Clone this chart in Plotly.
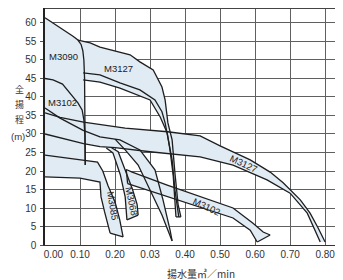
import plotly.graph_objects as go

# ---------------- data ----------------
x_grid_vals = [0.0, 0.1, 0.2, 0.3, 0.4, 0.5, 0.6, 0.7, 0.8]
x_tick_vals = [0.024, 0.1, 0.2, 0.3, 0.4, 0.5, 0.6, 0.7, 0.8]
x_tick_text = ["0.00", "0.10", "0.20", "0.03", "0.40", "0.50", "0.60", "0.70", "0.80"]
y_tick_vals = [0, 5, 10, 15, 20, 25, 30, 35, 40, 45, 50, 55, 60]

# top curve (M3090 upper) with vertical drop
c1_q = [0.0, 0.02, 0.043, 0.06, 0.08, 0.094, 0.103, 0.108, 0.111, 0.113, 0.114, 0.114, 0.115]
c1_h = [61.4, 60.2, 58.6, 57.6, 56.4, 55.4, 54.2, 52.5, 50.0, 45.0, 38.0, 30.0, 21.6]
# M3090 lower curve
l45_q = [0.0, 0.023, 0.05, 0.063, 0.08, 0.094, 0.106, 0.111, 0.114, 0.115]
l45_h = [45.0, 44.6, 43.5, 42.0, 40.0, 38.4, 36.5, 33.8, 29.7, 21.6]
# M3127 (upper band) outer curve
c2_q = [0.094, 0.129, 0.157, 0.20, 0.243, 0.271, 0.309, 0.334, 0.343, 0.351, 0.363, 0.371, 0.38, 0.388]
c2_h = [55.4, 54.6, 53.5, 52.5, 51.4, 49.5, 47.3, 42.7, 39.2, 33.0, 28.4, 19.5, 11.0, 7.6]
# M3127 inner curves
c3_q = [0.109, 0.157, 0.214, 0.271, 0.314, 0.334, 0.343, 0.351, 0.363, 0.371, 0.382]
c3_h = [46.5, 46.0, 43.8, 41.9, 39.2, 36.0, 33.0, 29.2, 23.0, 14.9, 7.6]
c4_q = [0.109, 0.157, 0.214, 0.30, 0.329, 0.349, 0.357, 0.366, 0.374]
c4_h = [44.6, 44.0, 42.4, 39.2, 34.6, 30.3, 25.7, 18.9, 7.6]
# narrow crescent band ending near the axis
la_q = [0.0, 0.043, 0.109, 0.157, 0.214, 0.271, 0.314, 0.337, 0.357, 0.363]
la_h = [37.0, 34.3, 31.0, 29.2, 28.4, 25.7, 20.3, 12.2, 4.1, 1.1]
lz_q = [0.20, 0.229, 0.266, 0.30, 0.334, 0.363]
lz_h = [28.6, 25.7, 21.6, 14.9, 8.1, 1.1]
# M3068 band edges
m68r_q = [0.19, 0.209, 0.23, 0.25, 0.263, 0.266]
m68r_h = [26.3, 25.2, 20.0, 15.0, 11.0, 8.1]
m68l_q = [0.175, 0.194, 0.215, 0.229, 0.234]
m68l_h = [26.2, 24.9, 19.0, 13.0, 6.8]
# M3127 (right band) edges
u127_q = [0.0, 0.043, 0.11, 0.229, 0.35, 0.443, 0.50, 0.586, 0.643, 0.68, 0.729, 0.757, 0.78, 0.80]
u127_h = [35.7, 34.5, 33.2, 31.6, 30.6, 29.5, 26.8, 23.0, 19.7, 16.8, 12.2, 8.6, 4.6, 0.8]
b127_q = [0.0, 0.06, 0.11, 0.157, 0.20, 0.30, 0.443, 0.537, 0.634, 0.70, 0.749, 0.786]
b127_h = [30.0, 28.6, 27.4, 26.6, 26.3, 25.2, 23.8, 21.6, 17.6, 14.0, 8.6, 0.8]
# M3102 (right band) edges
u102_q = [0.232, 0.249, 0.349, 0.443, 0.537, 0.594, 0.623, 0.643]
u102_h = [20.4, 19.7, 16.2, 13.2, 10.0, 5.9, 3.5, 2.7]
b102_q = [0.236, 0.249, 0.349, 0.443, 0.537, 0.586, 0.606]
b102_h = [16.6, 16.2, 13.0, 10.2, 7.3, 4.0, 0.8]
# M3085 band edges
ld_q = [0.0, 0.06, 0.15, 0.165, 0.18, 0.20, 0.213, 0.223]
ld_h = [24.3, 23.6, 22.4, 20.0, 16.0, 11.6, 7.0, 2.2]
le_q = [0.0, 0.10, 0.157, 0.160, 0.170, 0.186]
le_h = [18.4, 18.1, 17.0, 13.0, 9.0, 3.2]

labels = ["M3090", "M3127", "M3102", "M3127", "M3102", "M3085", "M3068"]
label_q = [0.053, 0.209, 0.049, 0.566, 0.46, 0.193, 0.246]
label_h = [51.0, 47.6, 38.5, 21.9, 10.3, 10.6, 11.9]
label_angle = [0, 0, 0, 25, 25, 80, 78]

FILL = "#e0ebf4"
LINE = "#1e1e1e"

fig = go.Figure()


def band(q_up, h_up, q_lo, h_lo):
    xs = list(q_up) + list(reversed(q_lo))
    ys = list(h_up) + list(reversed(h_lo))
    fig.add_trace(go.Scatter(x=xs + [xs[0]], y=ys + [ys[0]], mode="lines", fill="toself",
                             fillcolor=FILL, line=dict(width=0), hoverinfo="skip", showlegend=False))


def edge(q, h, w=1.3):
    fig.add_trace(go.Scatter(x=q, y=h, mode="lines", line=dict(color=LINE, width=w),
                             hoverinfo="skip", showlegend=False))


# shaded bands
band(l45_q, l45_h, le_q[:3], le_h[:3])
band(c1_q, c1_h, l45_q, l45_h)
band(c2_q, c2_h, c4_q, c4_h)
band(u127_q, u127_h, b127_q, b127_h)
band(la_q[4:], la_h[4:], lz_q, lz_h)
band(u102_q, u102_h, b102_q, b102_h)
band(m68r_q, m68r_h, m68l_q, m68l_h)
band(ld_q, ld_h, le_q, le_h)

for q, h in [(c1_q, c1_h), (l45_q, l45_h), (c2_q, c2_h), (c3_q, c3_h), (c4_q, c4_h),
             (la_q, la_h), (lz_q, lz_h), (m68r_q, m68r_h), (m68l_q, m68l_h),
             (u127_q, u127_h), (b127_q, b127_h),
             (u102_q, u102_h), (b102_q, b102_h), (ld_q, ld_h), (le_q, le_h)]:
    edge(q, h)
# band end caps
edge([u102_q[0], b102_q[0]], [u102_h[0], b102_h[0]])
edge([u102_q[-1], b102_q[-1]], [u102_h[-1], b102_h[-1]])
edge([ld_q[-1], le_q[-1]], [ld_h[-1], le_h[-1]])
edge([m68r_q[-1], m68l_q[-1]], [m68r_h[-1], m68l_h[-1]])
edge([c2_q[-1], c4_q[-1]], [c2_h[-1], c4_h[-1]])

for t, q, h, a in zip(labels, label_q, label_h, label_angle):
    fig.add_annotation(x=q, y=h, text=t, showarrow=False, textangle=a,
                       font=dict(family="Liberation Sans, Arial", size=9.5, color="#222"))

# y-axis title, stacked characters
for ch, py in [("全", 89), ("揚", 104), ("程", 119)]:
    fig.add_annotation(xref="paper", yref="paper", x=(14 - 45) / 298, y=(245 - py) / 237,
                       text=ch, showarrow=False, textangle=0, borderpad=0,
                       font=dict(family="Noto Sans CJK JP", size=9, color="#333"))
fig.add_annotation(xref="paper", yref="paper", x=(10 - 45) / 298, y=(245 - 136) / 237,
                   text="(m)", showarrow=False, borderpad=0,
                   font=dict(family="Liberation Sans, Arial", size=9.5, color="#333"))
fig.add_annotation(xref="paper", yref="paper", x=(201 - 45) / 298, y=(245 - 264) / 237,
                   text="揚水量㎥／min", showarrow=False, yanchor="top",
                   font=dict(family="Noto Sans CJK JP", size=10, color="#333"))

fig.update_layout(shapes=[dict(type="line", xref="paper", yref="paper", x0=0, x1=1, y0=1, y1=1,
                               line=dict(color="#444", width=2))])

fig.update_layout(
    width=343, height=280,
    margin=dict(l=37, r=8, t=0, b=43),
    paper_bgcolor="white", plot_bgcolor="white",
    xaxis=dict(range=[0, 0.851], tickvals=x_tick_vals, ticktext=x_tick_text,
               showgrid=False, zeroline=False,
               minor=dict(tickvals=x_grid_vals, showgrid=True, gridcolor="#606060", gridwidth=1),
               showline=True, linecolor="#333", linewidth=1.2, ticks="",
               tickfont=dict(family="Liberation Sans, Arial", size=10, color="#333")),
    yaxis=dict(range=[0, 64.05], tickvals=y_tick_vals,
               showgrid=True, gridcolor="#606060", gridwidth=1, zeroline=False,
               showline=True, linecolor="#222", linewidth=1.5, ticks="outside", ticklen=3,
               tickcolor="#555", ticklabelstandoff=2,
               tickfont=dict(family="Liberation Sans, Arial", size=10, color="#333")),
)

fig.write_html("out.html")
